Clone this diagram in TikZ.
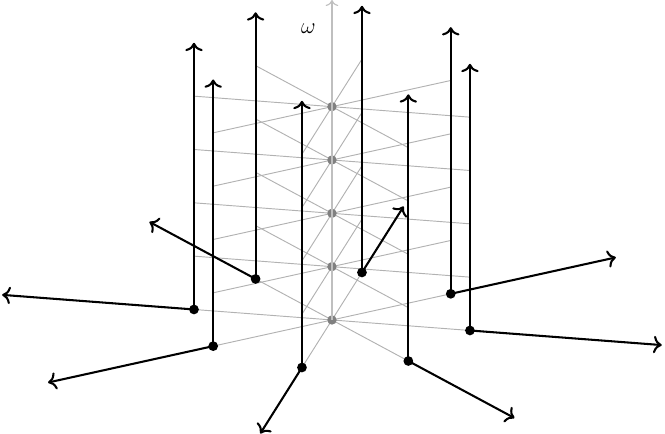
\documentclass[tikz,border=0pt]{standalone}
\usetikzlibrary{arrows.meta}
\begin{document}
\begin{tikzpicture}[x={(-2.5875cm,0.197cm)},y={(-0.5625cm,-0.891cm)},z={(0cm,1cm)},>={To[scale=1.1]}]

  \useasboundingbox (canvas cs:x=-6.225cm,y=-2.1375cm) rectangle (canvas cs:x=6.245cm,y=6cm);
  % grey levels
  \foreach \h in {0,...,4}{
    \foreach \a in {0,45,90,135}
      \draw[black!30,line width=0.5pt] ({cos(\a)},{sin(\a)},\h)--({-cos(\a)},{-sin(\a)},\h);
    \fill[black!50] (0,0,\h) circle (2.5pt);
  }
  \draw[->,black!25,line width=0.6pt] (0,0,0)--(0,0,6);
    \node[font=\large] at ([xshift=-0.44cm,yshift=-0.03cm]0,0,5.5)   (kw) {$\omega$};
  % vectors on the circle
  \foreach \a [count=\i] in {0,45,...,315}{
    \coordinate (b\i) at ({cos(\a)},{sin(\a)},0);
    \coordinate (t\i) at ({cos(\a)},{sin(\a)},5);
    \coordinate (r\i) at ({2.39*cos(\a)},{2.39*sin(\a)},0);
    \draw[->,line width=1.1pt](b\i)--(t\i);
    \draw[->,line width=1.1pt](b\i)--(r\i);
    \fill (b\i) circle (2.6pt);
  }
    \end{tikzpicture}
\end{document}
